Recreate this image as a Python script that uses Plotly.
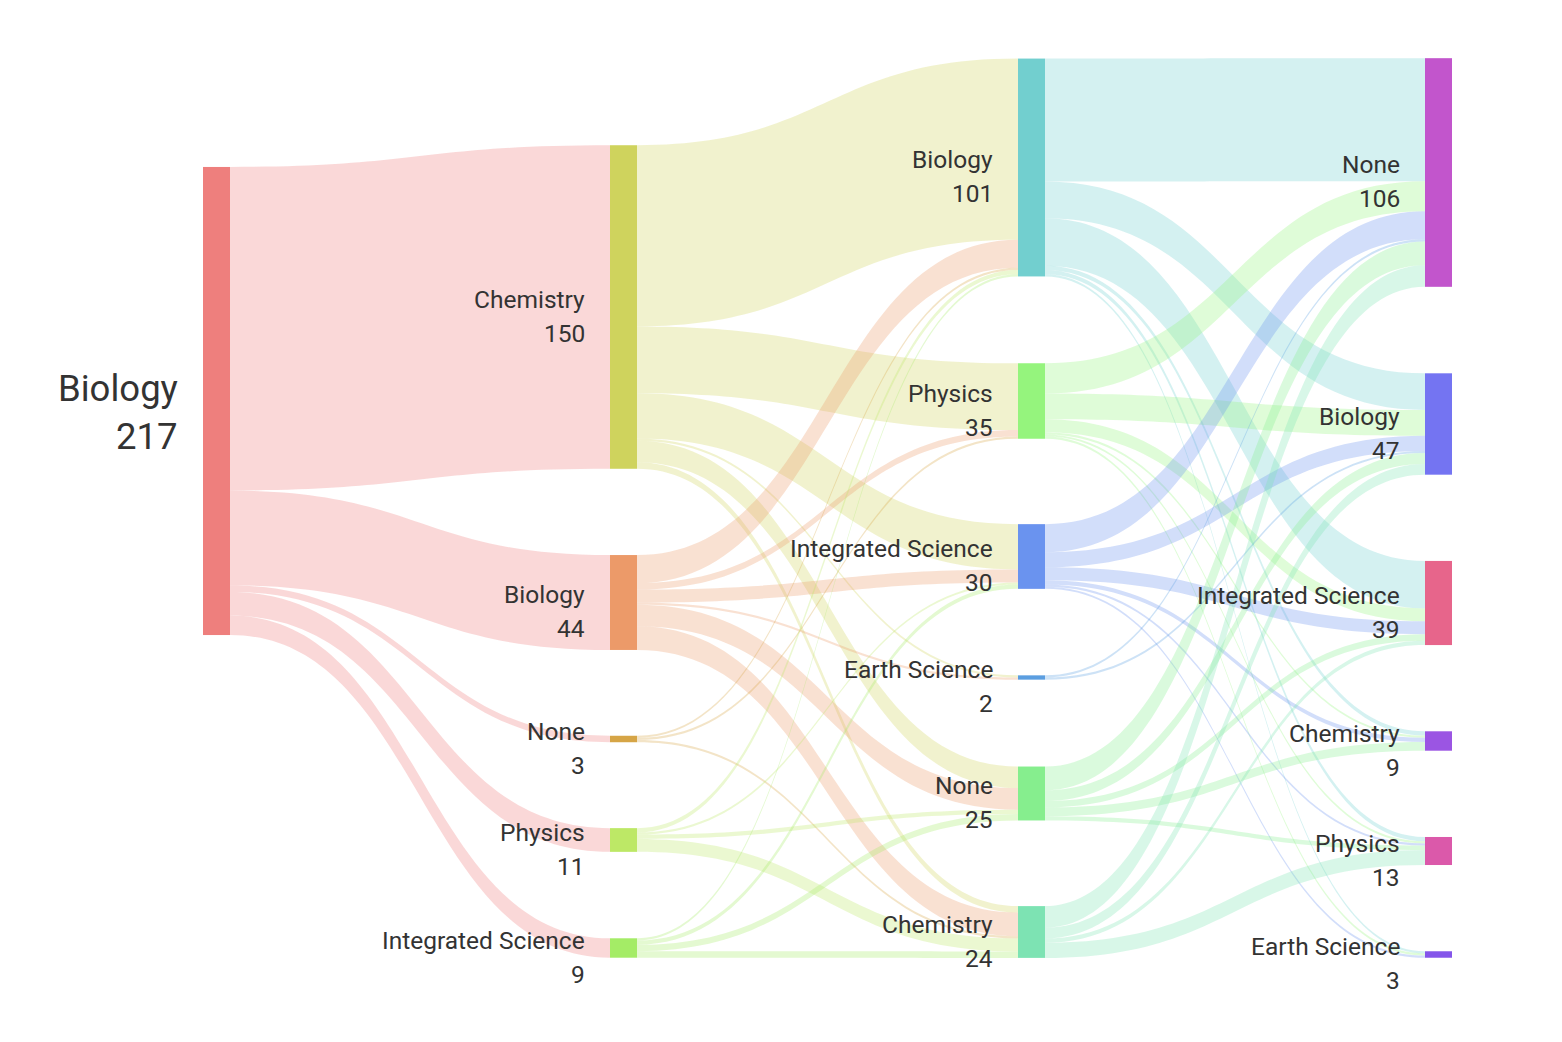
import plotly.graph_objects as go

# ---------------- data ----------------
year1 = ["Biology"]
year2 = ["Chemistry", "Biology", "None", "Physics", "Integrated Science"]
year3 = ["Biology", "Physics", "Integrated Science", "Earth Science", "None", "Chemistry"]
year4 = ["None", "Biology", "Integrated Science", "Chemistry", "Physics", "Earth Science"]

# rows = source (previous year), columns = target (next year)
flow_1_2 = [[150, 44, 3, 11, 9]]
flow_2_3 = [
    [84, 31, 21, 1, 10, 3],   # Chemistry
    [13, 3, 6, 1, 10, 11],    # Biology
    [1, 1, 0, 0, 0, 1],       # None
    [2, 0, 1, 0, 2, 6],       # Physics
    [1, 0, 2, 0, 3, 3],       # Integrated Science
]
flow_3_4 = [
    [57, 17, 22, 2, 2, 1],    # Biology
    [14, 12, 6, 1, 1, 1],     # Physics
    [13, 7, 6, 2, 1, 1],      # Integrated Science
    [1, 1, 0, 0, 0, 0],       # Earth Science
    [11, 5, 3, 4, 2, 0],      # None
    [10, 5, 2, 0, 7, 0],      # Chemistry
]

# ---------------- layout / style ----------------
W, H = 1540, 1020
OFF = 8                      # browser body margin
THICK = 27
LABEL_GAP = 23
col_x_page = [216.5, 623.5, 1031.5, 1438.5]
node_y_page = [
    [401],
    [307, 602.5, 739, 840, 948],
    [167.5, 401, 556.5, 677.5, 793.5, 932],
    [172.5, 424, 603, 741, 851, 954.5],
]
node_colors = [
    ["#ee7f7d"],
    ["#cfd35d", "#ec9a69", "#d6a546", "#bde866", "#a4ec66"],
    ["#72cfcf", "#95f47d", "#6a93ef", "#5b9ee0", "#86ee8e", "#7de3b3"],
    ["#c255cc", "#7474f2", "#e7658b", "#9b55e3", "#db59aa", "#8455ea"],
]
LINK_ALPHA = 0.3

columns = [year1, year2, year3, year4]
flows = [flow_1_2, flow_2_3, flow_3_4]

# node indices
index = []
labels, xs, ys, ncolors = [], [], [], []
k = 0
for c, names in enumerate(columns):
    idx = []
    for r, name in enumerate(names):
        idx.append(k)
        labels.append(name)
        xs.append((col_x_page[c] - OFF) / W)
        ys.append((node_y_page[c][r] - OFF) / H)
        ncolors.append(node_colors[c][r])
        k += 1
    index.append(idx)


def rgba(hex_color, a):
    h = hex_color.lstrip("#")
    return "rgba(%d,%d,%d,%.2f)" % (int(h[0:2], 16), int(h[2:4], 16), int(h[4:6], 16), a)


src, tgt, val, lcol = [], [], [], []
for s, mat in enumerate(flows):
    for i, row in enumerate(mat):
        for j, v in enumerate(row):
            if v > 0:
                src.append(index[s][i])
                tgt.append(index[s + 1][j])
                val.append(v)
                lcol.append(rgba(node_colors[s][i], LINK_ALPHA))

# node totals
totals = [0] * len(labels)
for s_, t_, v_ in zip(src, tgt, val):
    totals[t_] += v_
out_tot = [0] * len(labels)
for s_, v_ in zip(src, val):
    out_tot[s_] += v_
totals = [max(a, b) for a, b in zip(totals, out_tot)]

# padding so that the 6-node columns span the same scale as the reference
max_nodes = max(len(c) for c in columns)
scale = 2.157
PAD = (H - scale * sum(flow_1_2[0])) / (max_nodes - 1)

fig = go.Figure(go.Sankey(
    arrangement="fixed",
    domain=dict(x=[0, 1], y=[0, 1]),
    node=dict(label=labels, x=xs, y=ys, pad=PAD, thickness=THICK,
              color=ncolors, line=dict(width=0), hoverinfo="none"),
    link=dict(source=src, target=tgt, value=val, color=lcol, hoverinfo="none"),
    textfont=dict(color="rgba(0,0,0,0)", size=1),
))

annotations = []
for c, names in enumerate(columns):
    big = (c == 0)
    fs = 36.5 if big else 24.5
    dy_name = -13 if big else -8
    dy_val = 35 if big else 26
    for r, name in enumerate(names):
        n = index[c][r]
        xr = (col_x_page[c] - OFF - THICK / 2 - LABEL_GAP) / W
        yc = node_y_page[c][r] - OFF
        annotations.append(dict(x=xr, y=1 - (yc + dy_name) / H, xref="paper", yref="paper",
                                text=name, showarrow=False, xanchor="right", yanchor="middle",
                                font=dict(family="Roboto", size=fs, color="#333333")))
        annotations.append(dict(x=xr, y=1 - (yc + dy_val) / H, xref="paper", yref="paper",
                                text=str(totals[n]), showarrow=False, xanchor="right", yanchor="middle",
                                font=dict(family="Roboto", size=fs, color="#333333")))

fig.update_layout(width=W, height=H, margin=dict(l=0, r=0, t=0, b=0),
                  paper_bgcolor="white", plot_bgcolor="white",
                  font=dict(family="Roboto"), annotations=annotations)

fig.write_html("out.html")
